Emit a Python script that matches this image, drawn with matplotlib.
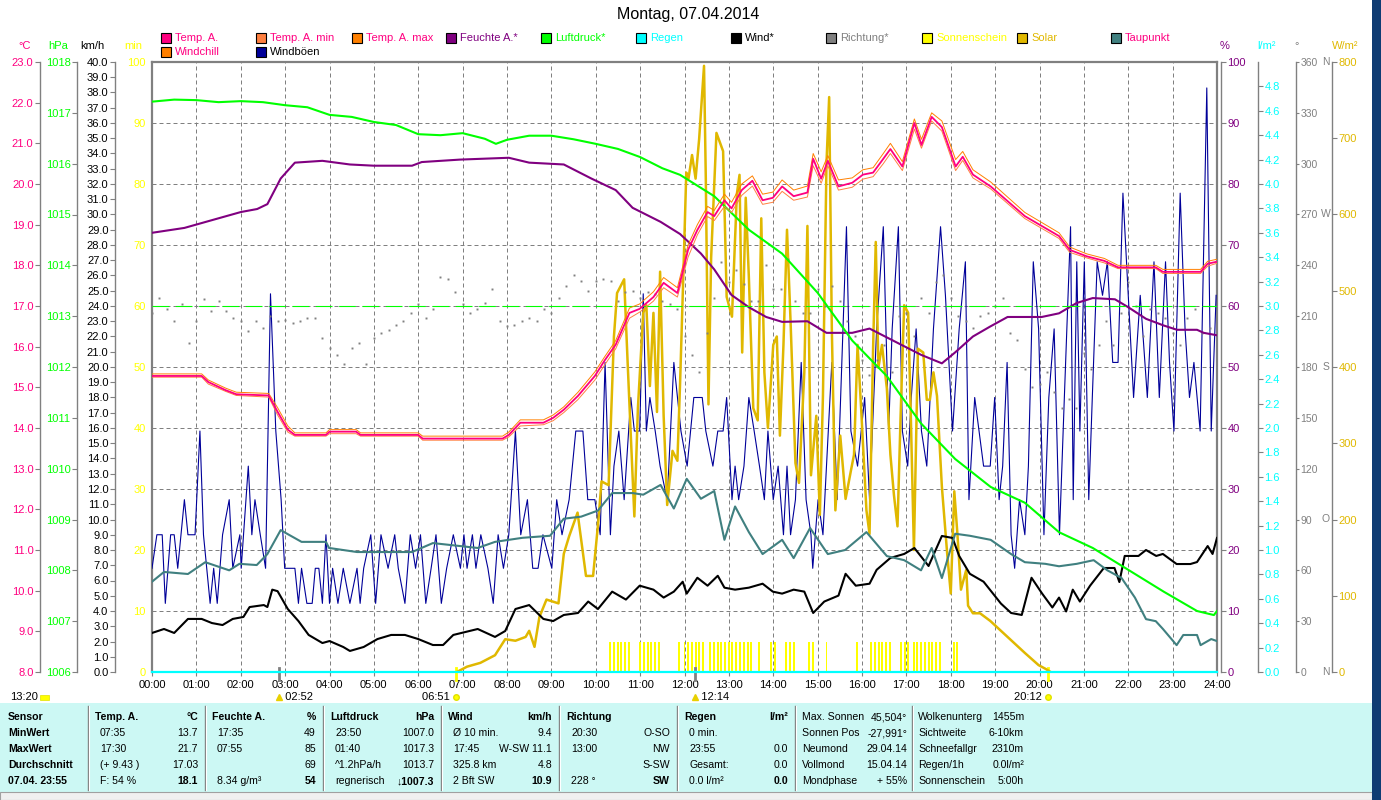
import numpy as np
import matplotlib.pyplot as plt
import matplotlib.transforms as mtransforms
from matplotlib.patches import Rectangle

plt.rcParams['font.family'] = ['Liberation Sans', 'DejaVu Sans']
plt.rcParams['font.size'] = 8

# ---------------- Daten ----------------
temp_t = [0, 1.12, 1.27, 1.66, 1.9, 2.63, 2.83, 3.06, 3.22, 3.5, 3.92, 4.0, 4.6, 4.7, 6.0, 6.1, 7.9, 8.04,
          8.3, 8.82, 9.04, 9.28, 9.6, 9.98, 10.2, 10.45, 10.76, 10.99, 11.3, 11.53, 11.84, 12.08, 12.29,
          12.52, 12.67, 12.9, 13.06, 13.29, 13.53, 13.76, 13.99, 14.2, 14.46, 14.77, 14.9, 15.08, 15.23,
          15.47, 15.78, 16.02, 16.25, 16.48, 16.64, 16.91, 17.18, 17.34, 17.57, 17.8, 18.11, 18.27, 18.5,
          18.9, 19.67, 20.44, 20.68, 21.07, 21.46, 21.77, 22.62, 22.78, 23.63, 23.79, 24.0]
temp = [15.28, 15.28, 15.13, 14.93, 14.83, 14.8, 14.4, 13.96, 13.83, 13.83, 13.83, 13.91, 13.91, 13.83,
        13.83, 13.74, 13.74, 13.83, 14.13, 14.13, 14.25, 14.45, 14.79, 15.28, 15.66, 16.05, 16.83, 16.93,
        17.22, 17.57, 17.32, 18.38, 18.87, 19.31, 19.21, 19.6, 19.4, 19.85, 20.08, 19.6, 19.66, 19.94, 19.7,
        19.79, 20.62, 20.13, 20.57, 19.94, 20.03, 20.23, 20.28, 20.62, 20.86, 20.43, 21.5, 20.96, 21.65,
        21.4, 20.43, 20.67, 20.23, 19.94, 19.21, 18.72, 18.38, 18.22, 18.11, 17.95, 17.95, 17.84, 17.84,
        18.04, 18.09]
temp_max = [15.33, 15.33, 15.18, 14.98, 14.88, 14.85, 14.5, 14.05, 13.88, 13.88, 13.88, 13.96, 13.96, 13.88,
            13.88, 13.8, 13.8, 13.9, 14.2, 14.2, 14.32, 14.52, 14.88, 15.38, 15.75, 16.15, 16.95, 17.05,
            17.35, 17.7, 17.45, 18.5, 19.0, 19.45, 19.35, 19.75, 19.55, 20.0, 20.2, 19.75, 19.8, 20.1, 19.85,
            19.95, 20.75, 20.3, 20.7, 20.1, 20.15, 20.35, 20.4, 20.75, 21.0, 20.55, 21.6, 21.1, 21.75, 21.55,
            20.6, 20.8, 20.35, 20.05, 19.3, 18.8, 18.45, 18.28, 18.17, 18.0, 18.0, 17.9, 17.9, 18.1, 18.15]
temp_min = [15.25, 15.25, 15.08, 14.9, 14.8, 14.76, 14.32, 13.9, 13.8, 13.8, 13.8, 13.86, 13.86, 13.8,
            13.8, 13.7, 13.7, 13.78, 14.05, 14.08, 14.18, 14.38, 14.7, 15.18, 15.55, 15.95, 16.7, 16.85,
            17.12, 17.45, 17.22, 18.2, 18.75, 19.2, 19.1, 19.45, 19.3, 19.72, 19.95, 19.5, 19.55, 19.82, 19.6,
            19.68, 20.45, 20.02, 20.45, 19.85, 19.92, 20.12, 20.18, 20.5, 20.75, 20.33, 21.35, 20.88, 21.55,
            21.3, 20.33, 20.58, 20.15, 19.88, 19.15, 18.66, 18.32, 18.18, 18.06, 17.92, 17.92, 17.8, 17.8,
            17.98, 18.05]

tau_t = [0, 0.27, 0.81, 1.2, 1.74, 1.97, 2.36, 2.6, 2.9, 3.06, 3.37, 3.92, 3.99, 4.62, 5.86, 6.33, 7.34,
         7.73, 8.35, 8.97, 9.28, 9.67, 10.05, 10.37, 10.83, 11.07, 11.46, 11.76, 12.05, 12.37, 12.67, 12.9,
         13.14, 13.45, 13.76, 14.2, 14.46, 14.83, 15.23, 15.62, 16.1, 16.56, 16.95, 17.33, 17.57, 17.8, 18.1,
         18.43, 18.9, 19.36, 19.67, 20.13, 20.44, 20.84, 21.22, 21.53, 21.85, 22.15, 22.4, 22.62, 22.78,
         23.09, 23.24, 23.55, 23.63, 23.87, 24.0]
taupunkt = [10.22, 10.46, 10.41, 10.7, 10.5, 10.66, 10.63, 10.9, 11.49, 11.39, 11.2, 11.2, 11.05, 10.95,
            10.95, 11.17, 11.05, 11.2, 11.3, 11.35, 11.77, 11.82, 11.97, 12.4, 12.4, 12.36, 12.6, 12.02,
            12.75, 12.26, 12.45, 11.25, 12.07, 11.44, 10.9, 11.25, 10.8, 11.54, 10.9, 11.0, 11.44, 10.85,
            10.75, 10.5, 11.05, 10.31, 11.4, 11.35, 11.25, 10.9, 10.7, 10.66, 10.6, 10.66, 10.75, 10.5, 10.31,
            9.83, 9.3, 9.25, 9.06, 8.66, 8.91, 8.91, 8.66, 8.81, 8.76]

feuchte_t = [0, 0.73, 1.51, 2.0, 2.37, 2.6, 2.9, 3.22, 3.84, 4.46, 5.0, 5.86, 6.08, 6.94, 8.04, 8.5, 9.28,
             9.9, 10.45, 10.83, 11.46, 11.9, 12.37, 12.67, 13.06, 13.45, 13.84, 14.2, 14.77, 15.2, 15.78,
             16.17, 16.87, 17.33, 17.8, 18.1, 18.5, 18.88, 19.28, 20.05, 20.44, 20.84, 21.2, 21.7, 22.0, 22.4,
             22.8, 23.1, 23.55, 23.7, 24.0]
feuchte = [72.0, 72.8, 74.4, 75.4, 75.9, 76.7, 80.9, 83.5, 83.8, 83.2, 83.0, 83.0, 83.6, 84.0, 84.3, 83.5,
           83.2, 80.9, 79.0, 76.1, 73.8, 71.8, 68.6, 66.0, 61.8, 59.8, 58.2, 57.4, 57.5, 55.6, 55.6, 56.3,
           53.7, 52.0, 50.6, 52.4, 55.0, 56.6, 58.2, 58.2, 58.8, 60.5, 61.3, 61.1, 59.8, 57.9, 56.8, 56.1,
           56.1, 55.6, 55.2]

druck_t = [0, 0.5, 1.0, 1.5, 2.0, 2.5, 3.0, 3.5, 4.0, 4.5, 5.0, 5.5, 6.0, 6.5, 7.0, 7.5, 7.75, 8.0, 8.5,
           9.0, 9.5, 10.0, 10.5, 11.0, 11.5, 11.9, 12.67, 13.45, 14.2, 15.0, 15.78, 16.56, 17.33, 18.1, 18.9,
           19.67, 20.44, 21.2, 22.0, 22.8, 23.55, 23.93, 24.0]
luftdruck = [1017.22, 1017.26, 1017.25, 1017.21, 1017.23, 1017.21, 1017.15, 1017.11, 1016.96, 1016.92,
             1016.82, 1016.76, 1016.58, 1016.56, 1016.6, 1016.49, 1016.39, 1016.47, 1016.55, 1016.55,
             1016.48, 1016.39, 1016.29, 1016.13, 1015.91, 1015.78, 1015.36, 1014.7, 1014.23, 1013.46,
             1012.52, 1011.82, 1010.89, 1010.19, 1009.64, 1009.33, 1008.75, 1008.44, 1008.01, 1007.58,
             1007.2, 1007.12, 1007.2]
druck_referenz = 1013.2

wind_t = [0, 0.27, 0.5, 0.81, 1.12, 1.35, 1.59, 1.82, 2.06, 2.2, 2.52, 2.6, 2.71, 2.83, 3.06, 3.3, 3.53,
          3.84, 4.0, 4.31, 4.46, 4.77, 5.08, 5.39, 5.7, 6.0, 6.33, 6.56, 6.79, 7.34, 7.73, 7.96, 8.19, 8.5,
          8.82, 9.04, 9.28, 9.6, 9.83, 10.05, 10.37, 10.68, 10.99, 11.3, 11.53, 11.76, 11.96, 12.05, 12.29,
          12.52, 12.75, 12.9, 13.14, 13.45, 13.76, 13.99, 14.2, 14.46, 14.7, 14.9, 15.15, 15.47, 15.63,
          15.86, 16.17, 16.33, 16.64, 16.95, 17.18, 17.5, 17.8, 18.04, 18.19, 18.43, 18.74, 19.13, 19.36,
          19.6, 19.82, 20.06, 20.29, 20.44, 20.6, 20.75, 20.91, 21.14, 21.45, 21.69, 21.8, 21.92, 22.23,
          22.4, 22.63, 22.78, 23.09, 23.4, 23.55, 23.79, 23.9, 24.0]
wind = [2.56, 2.82, 2.56, 3.48, 3.48, 3.21, 3.08, 3.48, 3.61, 4.26, 4.39, 4.26, 5.4, 5.3, 4.13, 3.34, 2.43,
        1.9, 2.03, 1.64, 1.38, 1.64, 2.16, 2.43, 2.43, 2.16, 1.77, 1.77, 2.43, 2.82, 2.3, 2.69, 4.13, 4.39,
        3.48, 3.34, 3.74, 3.87, 4.62, 4.13, 5.27, 4.75, 5.66, 5.4, 4.88, 5.27, 5.92, 5.14, 6.18, 5.66, 6.31,
        5.53, 5.4, 5.53, 5.79, 5.27, 5.14, 5.4, 5.27, 3.87, 4.62, 5.01, 6.44, 5.66, 5.79, 6.7, 7.48, 7.74,
        8.13, 6.95, 8.92, 8.79, 7.61, 6.44, 5.92, 4.49, 3.87, 3.74, 6.18, 5.14, 4.23, 4.88, 3.97, 5.4, 4.62,
        5.66, 6.82, 6.82, 5.9, 7.61, 7.61, 8.0, 7.61, 7.74, 7.08, 7.08, 7.21, 8.26, 7.74, 8.79]

boeen_t = [0.0, 0.11, 0.23, 0.30, 0.42, 0.5, 0.58, 0.73, 0.81, 0.97, 1.08, 1.16, 1.31, 1.39, 1.47, 1.59,
           1.74, 1.82, 1.98, 2.01, 2.17, 2.25, 2.32, 2.44, 2.56, 2.67, 2.79, 2.91, 2.99, 3.22, 3.30, 3.37,
           3.49, 3.61, 3.68, 3.76, 3.84, 3.92, 4.0, 4.07, 4.19, 4.31, 4.46, 4.62, 4.69, 4.77, 4.93, 5.04,
           5.16, 5.32, 5.47, 5.55, 5.7, 5.82, 5.94, 6.05, 6.17, 6.29, 6.4, 6.52, 6.64, 6.79, 6.95, 7.03, 7.1,
           7.22, 7.3, 7.41, 7.57, 7.69, 7.8, 7.92, 8.04, 8.19, 8.31, 8.46, 8.58, 8.7, 8.81, 9.01, 9.12, 9.24,
           9.4, 9.55, 9.71, 9.82, 9.98, 10.1, 10.21, 10.33, 10.41, 10.52, 10.64, 10.79, 10.87, 10.99, 11.07,
           11.14, 11.22, 11.34, 11.45, 11.61, 11.76, 11.92,
           12.06, 12.21, 12.4, 12.48, 12.64, 12.75, 12.87, 12.95, 13.07, 13.14, 13.22, 13.34, 13.45, 13.57,
           13.69, 13.8, 13.88, 14.0, 14.11, 14.23, 14.31, 14.39, 14.5, 14.63, 14.74, 14.85, 14.89, 15.01,
           15.12, 15.32, 15.44, 15.65, 15.75, 15.9, 16.06, 16.17, 16.33, 16.48, 16.6, 16.68, 16.82, 16.91,
           17.03, 17.11, 17.22, 17.34, 17.46, 17.61, 17.77, 17.88, 18.04, 18.19, 18.33, 18.41, 18.54, 18.74,
           18.89, 18.99, 19.09, 19.17, 19.27, 19.36, 19.44, 19.55, 19.67, 19.75, 19.86, 19.98, 20.1, 20.21,
           20.33, 20.45, 20.56, 20.7, 20.76, 20.84, 20.91, 21.01, 21.11, 21.19, 21.3, 21.42, 21.53, 21.65,
           21.77, 21.88, 22.0, 22.12, 22.27, 22.43, 22.58, 22.7, 22.84, 22.93, 23.03, 23.17, 23.28, 23.38,
           23.48, 23.62, 23.77, 23.87, 23.98]
boeen = [6.8, 9.0, 9.0, 4.5, 9.0, 9.0, 6.8, 11.3, 9.0, 9.0, 15.8, 9.0, 4.5, 6.8, 4.5, 9.0, 11.3, 6.8, 9.0,
         6.8, 13.5, 9.0, 11.3, 9.0, 6.8, 24.8, 15.8, 11.3, 6.8, 6.8, 4.5, 6.8, 4.5, 4.5, 6.8, 6.8, 4.5, 9.0,
         4.5, 6.8, 4.5, 6.8, 4.5, 6.8, 4.5, 6.8, 9.0, 4.5, 9.0, 6.8, 9.0, 6.8, 4.5, 9.0, 6.8, 9.0, 4.5, 6.8,
         9.0, 4.5, 6.8, 9.0, 6.8, 9.0, 6.8, 9.0, 6.8, 9.0, 6.8, 4.5, 9.0, 6.8, 9.0, 15.8, 9.0, 11.3, 6.8,
         6.8, 9.0, 6.8, 11.3, 9.0, 11.3, 15.8, 15.8, 11.3, 11.3, 9.0, 20.3, 9.0, 13.5, 15.8, 11.3, 18.0,
         15.8, 15.8, 24.8, 15.8, 18.0, 15.8, 13.5, 11.3, 20.3, 15.8,
         13.5, 18.0, 18.0, 15.8, 13.5, 15.8, 15.8, 18.0, 11.3, 13.5, 11.3, 13.5, 18.0, 15.8, 13.5, 11.3,
         15.8, 11.3, 13.5, 9.0, 13.5, 9.0, 11.3, 20.3, 11.3, 9.0, 6.8, 11.3, 9.0, 20.3, 11.3, 29.2, 15.8,
         13.5, 18.0, 11.3, 22.5, 29.2, 15.8, 22.5, 29.2, 15.8, 13.5, 18.0, 22.5, 15.8, 13.5, 22.5, 29.2,
         24.7, 15.8, 22.5, 26.9, 11.3, 18.0, 13.5, 13.5, 18.0, 11.3, 13.5, 20.3, 9.0, 6.8, 11.3, 9.0, 13.5,
         26.9, 22.5, 9.0, 18.0, 22.5, 9.0, 18.0, 29.2, 11.3, 26.9, 15.8, 26.9, 11.3, 18.0, 26.9, 24.7,
         26.9, 20.3, 20.3, 31.4, 24.7, 18.0, 24.7, 18.0, 26.9, 18.0, 26.9, 20.3, 15.8, 31.4, 22.5, 18.0,
         20.3, 15.8, 38.3, 15.8, 24.7]

solar_t = [6.87, 7.1, 7.4, 7.73, 7.96, 8.19, 8.42, 8.5, 8.62, 8.73, 8.89, 9.16, 9.28, 9.4, 9.59, 9.78, 9.94,
           10.06, 10.13, 10.29, 10.41, 10.48, 10.64, 10.72, 10.79, 10.87, 10.95, 11.07, 11.14, 11.22, 11.3,
           11.38, 11.45, 11.53, 11.61, 11.73, 11.84, 11.9, 11.98, 12.04, 12.09, 12.17, 12.25, 12.33, 12.44,
           12.48, 12.54, 12.6, 12.68, 12.72, 12.87, 12.95, 13.07, 13.18, 13.24, 13.3, 13.38, 13.45, 13.55,
           13.65, 13.73, 13.8, 13.88, 14.0, 14.08, 14.15, 14.23, 14.31, 14.39, 14.5, 14.58, 14.7, 14.77,
           14.85, 14.97, 15.05, 15.12, 15.2, 15.26, 15.32, 15.4, 15.51, 15.63, 15.75, 15.82, 15.9, 15.98,
           16.1, 16.17, 16.25, 16.31, 16.37, 16.45, 16.56, 16.64, 16.72, 16.8, 16.87, 16.95, 17.04, 17.1,
           17.17, 17.26, 17.38, 17.46, 17.53, 17.61, 17.69, 17.8, 17.92, 18.0, 18.08, 18.15, 18.23, 18.35,
           18.39, 18.5, 18.66, 18.89, 19.28, 19.67, 19.98, 20.14, 20.25]
solar = [0, 7, 12, 22, 43, 41, 46, 54, 33, 72, 95, 90, 155, 178, 209, 126, 126, 199, 250, 245, 440, 497,
         515, 404, 310, 204, 346, 471, 481, 375, 471, 341, 525, 336, 219, 290, 277, 378, 533, 655, 647, 678,
         647, 699, 795, 647, 351, 543, 652, 707, 683, 492, 466, 627, 652, 419, 622, 518, 346, 330, 595, 393,
         320, 429, 440, 310, 429, 580, 460, 274, 248, 393, 585, 258, 336, 206, 362, 668, 754, 450, 212, 310,
         227, 264, 285, 429, 346, 212, 181, 424, 564, 399, 429, 372, 285, 232, 191, 336, 481, 471, 336, 160,
         424, 419, 357, 357, 393, 362, 243, 155, 103, 237, 181, 108, 134, 87, 77, 77, 67, 46, 25, 9, 4, 0]

richtung_t = np.arange(144) / 6
richtung = [212, 221, 214, 207, 217, 194, 207, 220, 213, 219, 213, 209, 207, 201, 207, 203, 210, 207,
            208, 206, 207, 209, 209, 197, 191, 187, 182, 191, 194, 182, 197, 200, 202, 205, 207, 212,
            217, 209, 214, 233, 232, 224, 217, 212, 214, 218, 226, 207, 204, 205, 207, 209, 207, 214,
            212, 221, 228, 234, 231, 225, 231, 232, 231, 219, 224, 225, 221, 224, 223, 219, 217, 214,
            198, 187, 177, 200, 221, 242, 230, 237, 229, 219, 219, 240, 226, 226, 244, 219, 212, 212,
            226, 216, 228, 219, 207, 198, 184, 175, 184, 193, 177, 210, 212, 198, 221, 212, 230, 234,
            221, 210, 207, 203, 210, 212, 216, 221, 200, 196, 179, 168, 170, 177, 165, 156, 161, 156,
            188, 179, 193, 207, 193, 212, 230, 216, 198, 214, 212, 209, 200, 193, 209, 214, 200, 203]

regen_t = [0, 24]
regen = [0.0, 0.0]

sonnenschein_t = [10.33, 10.42, 10.5, 10.58, 10.67, 10.75, 11.0, 11.08, 11.17, 11.25, 11.33, 11.42, 11.88,
                  12.0, 12.08, 12.17, 12.25, 12.33, 12.42, 12.58, 12.67, 12.75, 12.83, 12.92, 13.0, 13.08,
                  13.17, 13.25, 13.33, 13.42, 13.5, 13.69, 13.96, 14.04, 14.29, 14.38, 14.46, 14.81, 14.89,
                  15.2, 15.88, 16.21, 16.29, 16.38, 16.46, 16.54, 16.63, 16.88, 16.96, 17.04, 17.17, 17.25,
                  17.33, 17.42, 17.5, 17.58, 17.67, 17.75, 18.08, 18.15]
sonnenschein_min = [5] * len(sonnenschein_t)

ereignis_t = [2.867, 6.85, 12.233, 20.2]
ereignis_text = ['02:52', '06:51', '12:14', '20:12']
ereignis_sonne = [False, True, False, True]

# Tabelle
sensor_spalte = ['Sensor', 'MinWert', 'MaxWert', 'Durchschnitt', '07.04. 23:55']
tab_links = [
    ['Temp. A.', '07:35', '17:30', '(+ 9.43 )', 'F: 54 %'],
    ['Feuchte A.', '17:35', '07:55', '', '8.34 g/m³'],
    ['Luftdruck', '23:50', '01:40', '^1.2hPa/h', 'regnerisch'],
    ['Wind', 'Ø 10 min.', '17:45', '325.8 km', '2 Bft SW'],
    ['Richtung', '20:30', '13:00', '', '228 °'],
    ['Regen', '0 min.', '23:55', 'Gesamt:', '0.0 l/m²'],
]
tab_rechts = [
    ['°C', '13.7', '21.7', '17.03', '18.1'],
    ['%', '49', '85', '69', '54'],
    ['hPa', '1007.0', '1017.3', '1013.7', '↓1007.3'],
    ['km/h', '9.4', 'W-SW 11.1', '4.8', '10.9'],
    ['', 'O-SO', 'NW', 'S-SW', 'SW'],
    ['l/m²', '', '0.0', '0.0', '0.0'],
]
astro_links = ['Max. Sonnen', 'Sonnen Pos', 'Neumond', 'Vollmond', 'Mondphase']
astro_rechts = ['45,504°', '-27,991°', '29.04.14', '15.04.14', '+ 55%']
extra_links = ['Wolkenunterg', 'Sichtweite', 'Schneefallgr', 'Regen/1h', 'Sonnenschein']
extra_rechts = ['1455m', '6-10km', '2310m', '0.0l/m²', '5:00h']

# ---------------- Figur ----------------
W, H = 1381, 800
fig = plt.figure(figsize=(W / 100, H / 100), dpi=100)
fig.patch.set_facecolor('white')


def fx(x):
    return x / W


def fy(y):
    return 1 - y / H


GRAU = '#808080'
PINK = '#FF0080'
GOLD = '#E0B800'
PL, PR, PT, PB = 152, 1217, 62, 672
ax = fig.add_axes([fx(PL), fy(PB), (PR - PL) / W, (PB - PT) / H])
ax.set_xlim(0, 24)
ax.set_ylim(0, 100)
ax.set_xticks(range(25))
ax.set_xticklabels([f'{h:02d}:00' for h in range(25)])
ax.set_yticks(range(0, 101, 10))
ax.set_yticklabels([str(v) for v in range(0, 101, 10)])
ax.tick_params(axis='y', length=0, pad=4.5, labelcolor='#FFFF00', labelsize=8)
ax.tick_params(axis='x', length=3, color=GRAU, pad=3, labelsize=8)
ax.grid(True, color=GRAU, linestyle=(0, (4, 3)), linewidth=0.72)
ax.set_axisbelow(True)
for s in ['left', 'top', 'right']:
    ax.spines[s].set_color(GRAU)
    ax.spines[s].set_linewidth(1.6)
ax.spines['bottom'].set_visible(False)

# Sonnenschein-Balken
ax.bar(sonnenschein_t, sonnenschein_min, width=0.045, color='#FFFF00', zorder=2)


def skala(seite, abstand, lo, hi, ticks, labels, farbe, z, groesse=8, laenge=3.5, pad=1.2):
    a = ax.twinx()
    a.set_ylim(lo, hi)
    a.set_zorder(z)
    for s in a.spines.values():
        s.set_visible(False)
    if seite is None:
        a.set_yticks([])
        return a
    sp = a.spines[seite]
    sp.set_visible(True)
    sp.set_position(('outward', abstand * 0.72))
    sp.set_color(GRAU)
    sp.set_linewidth(1.0)
    if seite == 'left':
        a.yaxis.tick_left()
    else:
        a.yaxis.tick_right()
    a.set_yticks(ticks)
    a.set_yticklabels(labels)
    a.tick_params(axis='y', color=GRAU, labelcolor=farbe, length=laenge, width=0.8, pad=pad,
                  labelsize=groesse)
    return a


t_c = list(range(8, 24))
t_hpa = list(range(1006, 1019))
t_kmh = list(range(0, 41))
t_pct = list(range(0, 101, 10))
t_l = [round(0.2 * i, 1) for i in range(25)]
t_deg = list(range(0, 361, 30))
t_w = list(range(0, 801, 100))

ax_kmh = skala('left', 37, 0, 40, t_kmh, [f'{v:.1f}' for v in t_kmh], 'black', 1)
ax_w = skala('right', 115, 0, 800, t_w, [str(v) for v in t_w], GOLD, 2)
ax_deg = skala('right', 79, 0, 360, t_deg, [str(v) for v in t_deg], GRAU, 3, groesse=7.5, laenge=2.5,
               pad=0.8)
ax_wind = skala(None, 0, 0, 40, [], [], 'black', 4)
ax_l = skala('right', 41, 0, 5, t_l, [f'{v:.1f}' for v in t_l], '#00FFFF', 5)
ax_pct = skala('right', 4, 0, 100, t_pct, [str(v) for v in t_pct], '#800080', 6)
ax_hpa = skala('left', 75, 1006, 1018, t_hpa, [str(v) for v in t_hpa], '#00FF00', 7)
ax_c = skala('left', 112, 8, 23, t_c, [f'{v:.1f}' for v in t_c], PINK, 8)

ax_kmh.plot(boeen_t, boeen, color='#000099', lw=0.8)
ax_w.plot(solar_t, solar, color=GOLD, lw=1.8)
ax_deg.plot(richtung_t, richtung, 's', color=GRAU, ms=1.4, mew=0)
ax_wind.plot(wind_t, wind, color='black', lw=1.5)
ax_l.plot(regen_t, regen, color='#00FFFF', lw=1.6, clip_on=False)
ax_pct.plot(feuchte_t, feuchte, color='#800080', lw=1.5)
ax_hpa.plot(druck_t, luftdruck, color='#00FF00', lw=1.5)
ax_hpa.axhline(druck_referenz, color='#00FF00', lw=0.8, linestyle=(0, (15, 6)))
ax_c.plot(tau_t, taupunkt, color='#408080', lw=1.5)
ax_c.plot(temp_t, temp_min, color='#FF8040', lw=0.7)
ax_c.plot(temp_t, temp_max, color='#FF8000', lw=0.7)
ax_c.plot(temp_t, temp, color=PINK, lw=1.3)

# Himmelsrichtungen an der Grad-Achse
blend = mtransforms.blended_transform_factory(fig.transFigure, ax_deg.transData)
for grad, buchst in zip([0, 90, 180, 270, 360], ['N', 'O', 'S', 'W', 'N']):
    ax_deg.text(fx(1326), grad, buchst, transform=blend, color=GRAU, ha='center', va='center',
                fontsize=7.5, clip_on=False)

# Sonnen-/Mondereignisse unter der Zeitachse
xtr = ax.get_xaxis_transform()
for t, txt, sonne in zip(ereignis_t, ereignis_text, ereignis_sonne):
    farbe = '#FFFF00' if sonne else GRAU
    ax.plot([t, t], [0.007, -0.013], color=farbe, lw=2, transform=xtr, clip_on=False)
    if sonne:
        ax.plot(t, -0.041, 'o', color='#FFFF00', ms=4, mec='#E0E000', transform=xtr, clip_on=False)
        ax.text(t, -0.041, txt + '  ', transform=xtr, ha='right', va='center', fontsize=8)
    else:
        ax.plot(t, -0.041, '^', color='#E8D000', ms=4, transform=xtr, clip_on=False)
        ax.text(t, -0.041, '  ' + txt, transform=xtr, ha='left', va='center', fontsize=8)
fig.text(fx(10), fy(697), '13:20', ha='left', va='center', fontsize=8)
fig.add_artist(Rectangle((fx(40), fy(700)), 9 / W, 5 / H, transform=fig.transFigure,
                         facecolor='#FFFF00', edgecolor='#E0E000', lw=0.5))

# Titel
fig.text(fx(688), fy(15), 'Montag, 07.04.2014', ha='center', va='center', fontsize=11.5)

# Legende
leg1 = [('Temp. A.', PINK, PINK), ('Temp. A. min', '#FF8040', PINK), ('Temp. A. max', '#FF8000', PINK),
        ('Feuchte A.*', '#800080', '#800080'), ('Luftdruck*', '#00FF00', '#00FF00'),
        ('Regen', '#00FFFF', '#00FFFF'), ('Wind*', '#000000', 'black'), ('Richtung*', GRAU, GRAU),
        ('Sonnenschein', '#FFFF00', '#FFFF00'), ('Solar', GOLD, GOLD), ('Taupunkt', '#408080', PINK)]
leg2 = [('Windchill', '#FF8000', PINK), ('Windböen', '#000099', 'black')]
leg_x = [161, 256, 352, 446, 541, 636, 731, 826, 922, 1017, 1111]
for reihe, y in [(leg1, 38), (leg2, 52)]:
    for (name, fc, tc), x in zip(reihe, leg_x):
        fig.add_artist(Rectangle((fx(x), fy(y + 5)), 10 / W, 10 / H, transform=fig.transFigure,
                                 facecolor=fc, edgecolor='black', lw=0.8))
        fig.text(fx(x + 14), fy(y), name, color=tc, ha='left', va='center', fontsize=8)

# Achsenköpfe
for x, txt, c in [(25, '°C', PINK), (58, 'hPa', '#00FF00'), (92, 'km/h', 'black'), (133, 'min', '#FFFF00'),
                  (1225, '%', '#800080'), (1267, 'l/m²', '#00FFFF'), (1297, '°', GRAU),
                  (1345, 'W/m²', GOLD)]:
    fig.text(fx(x), fy(46), txt, color=c, ha='center', va='center', fontsize=8)

# ---------------- Tabelle unten ----------------
fig.add_artist(Rectangle((0, fy(792)), fx(1372), 89 / H, transform=fig.transFigure,
                         facecolor='#CCF8F4', edgecolor='none'))
fig.add_artist(Rectangle((0, 0), fx(1372), 8 / H, transform=fig.transFigure,
                         facecolor='#F0F0F0', edgecolor='#A0A0A0', lw=0.8))
fig.add_artist(Rectangle((fx(1372), 0), 9 / W, 1, transform=fig.transFigure,
                         facecolor='#0F3C73', edgecolor='none'))
for x in [88, 205, 323, 441, 559, 677, 795, 912]:
    fig.add_artist(plt.Line2D([fx(x), fx(x)], [fy(706), fy(790)], transform=fig.transFigure,
                              color=GRAU, lw=1))
    fig.add_artist(plt.Line2D([fx(x + 1), fx(x + 1)], [fy(706), fy(790)], transform=fig.transFigure,
                              color='white', lw=0.8))

TF = 7.6
zeilen_y = [717, 733, 749, 765, 781]
for txt, y in zip(sensor_spalte, zeilen_y):
    fig.text(fx(8), fy(y), txt, ha='left', va='center', fontsize=TF, fontweight='bold')

spalten_x = [(95, 198), (212, 316), (330, 434), (448, 552), (566, 670), (684, 788)]
for (xl, xr), links, rechts in zip(spalten_x, tab_links, tab_rechts):
    for i, y in enumerate(zeilen_y):
        fw_l = 'bold' if i == 0 else 'normal'
        fw_r = 'bold' if i in (0, 4) else 'normal'
        fig.text(fx(xl if i == 0 else xl + 5), fy(y), links[i], ha='left', va='center', fontsize=TF,
                 fontweight=fw_l)
        fig.text(fx(xr), fy(y), rechts[i], ha='right', va='center', fontsize=TF, fontweight=fw_r)

for (xl, xr), links, rechts in [((802, 907), astro_links, astro_rechts),
                                ((918, 1024), extra_links, extra_rechts)]:
    for i, y in enumerate(zeilen_y):
        fig.text(fx(xl), fy(y), links[i], ha='left', va='center', fontsize=TF)
        fig.text(fx(xr), fy(y), rechts[i], ha='right', va='center', fontsize=TF)

fig.savefig('out.png', dpi=100)
